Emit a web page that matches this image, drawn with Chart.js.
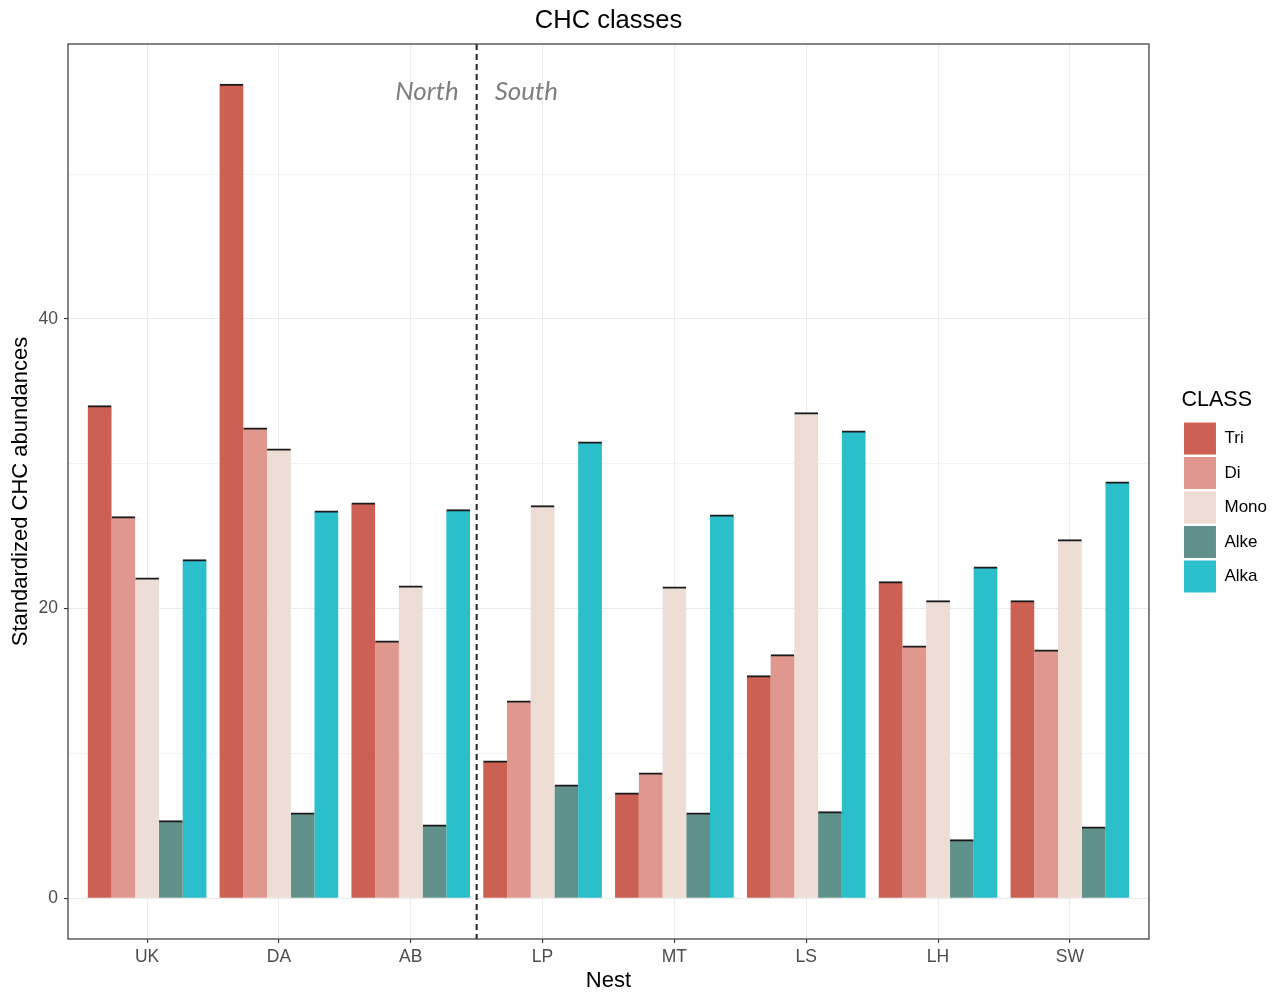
<!DOCTYPE html>
<html><head><meta charset="utf-8">
<script src="https://cdn.jsdelivr.net/npm/chart.js@4/dist/chart.umd.min.js"></script>
<style>html,body{margin:0;padding:0;background:#fff;} canvas{display:block;}</style>
</head><body>
<canvas id="c" width="1283" height="992"></canvas>
<script>
const categories = ['UK','DA','AB','LP','MT','LS','LH','SW'];
const classes = ['Tri','Di','Mono','Alke','Alka'];
const tri  = [33.99, 56.20, 27.29, 9.48, 7.27, 15.35, 21.84, 20.53];
const di   = [26.33, 32.47, 17.76, 13.62, 8.65, 16.80, 17.42, 17.14];
const mono = [22.11, 31.02, 21.56, 27.09, 21.49, 33.51, 20.53, 24.74];
const alke = [5.34, 5.89, 5.06, 7.82, 5.89, 5.96, 4.03, 4.92];
const alka = [23.36, 26.74, 26.81, 31.50, 26.46, 32.26, 22.87, 28.74];
const yTicks = [0, 10, 20, 30, 40, 50];
const yLabelled = [0, 20, 40];
const regionNames = ['North', 'South'];
const dividerX = 2.5;
const regionLabelY = 55.7;
const colors = ['#CC6153', '#E0978E', '#EDDDD5', '#60918B', '#2ABFCB'];

Chart.defaults.font.family = "'Liberation Sans', Arial, sans-serif";

const series = [tri, di, mono, alke, alka];
const datasets = classes.map((name, k) => ({
  label: name,
  data: series[k].map((v, i) => ({x: i, y: v})),
  backgroundColor: colors[k],
  borderColor: '#1a1a1a',
  borderWidth: {top: 2, right: 0, bottom: 0, left: 0},
  borderSkipped: false,
  inflateAmount: 0.6,
  categoryPercentage: 0.9,
  barPercentage: 1.0
}));

const overlay = {
  id: 'overlay',
  afterDatasetsDraw(chart) {
    const {ctx, chartArea: a, scales: {x, y}} = chart;
    const px = x.getPixelForValue(dividerX);
    ctx.save();
    ctx.strokeStyle = '#222'; ctx.lineWidth = 2; ctx.setLineDash([6, 4]);
    ctx.beginPath(); ctx.moveTo(px, a.top); ctx.lineTo(px, a.bottom); ctx.stroke();
    ctx.setLineDash([]);
    ctx.font = 'italic 26px Lato, "Open Sans", sans-serif';
    ctx.fillStyle = '#7f7f7f'; ctx.textBaseline = 'middle';
    const py = y.getPixelForValue(regionLabelY);
    ctx.textAlign = 'right'; ctx.fillText(regionNames[0], px - 18, py);
    ctx.textAlign = 'left'; ctx.fillText(regionNames[1], px + 18, py);
    ctx.strokeStyle = '#444'; ctx.lineWidth = 1.3;
    ctx.strokeRect(a.left, a.top, a.right - a.left, a.bottom - a.top);
    ctx.restore();
  }
};

new Chart(document.getElementById('c'), {
  type: 'bar',
  data: {datasets},
  plugins: [overlay],
  options: {
    responsive: false,
    animation: false,
    devicePixelRatio: 1,
    layout: {padding: {left: 0, right: 6, top: 0, bottom: 0}},
    plugins: {
      tooltip: {enabled: false},
      title: {display: true, fullSize: false, text: 'CHC classes', color: '#000', font: {size: 25.5, weight: 'normal'}, padding: {top: 5.5, bottom: 7.9}},
      legend: {
        position: 'right', align: 'center',
        title: {display: true, text: 'CLASS', color: '#000', font: {size: 21.5}, position: 'start', padding: {top: -8, bottom: 5}},
        labels: {
          boxWidth: 32, boxHeight: 32, padding: 2.5, color: '#000', font: {size: 17},
          generateLabels: chart => Chart.defaults.plugins.legend.labels.generateLabels(chart).map(l => ({...l, lineWidth: 0, strokeStyle: 'rgba(0,0,0,0)'}))
        }
      }
    },
    scales: {
      x: {
        type: 'linear', min: -0.6, max: 7.6, offset: false,
        afterBuildTicks: s => { s.ticks = categories.map((c, i) => ({value: i})); },
        afterFit: s => { s.height = 53; },
        ticks: {callback: v => categories[v] ?? '', color: '#4d4d4d', font: {size: 17.5}, padding: 3.5, autoSkip: false, maxRotation: 0},
        grid: {color: '#ebebeb', lineWidth: 1.1, tickLength: 4, tickColor: '#333', tickWidth: 1.1, offset: false},
        border: {display: false},
        title: {display: true, text: 'Nest', color: '#000', font: {size: 22}, padding: {top: 0, bottom: -2}}
      },
      y: {
        min: -2.81, max: 58.98,
        afterBuildTicks: s => { s.ticks = yTicks.map(v => ({value: v})); },
        afterFit: s => { s.width = 68; },
        ticks: {callback: v => yLabelled.includes(v) ? String(v) : '', color: '#4d4d4d', font: {size: 17.5}, padding: 6},
        grid: {
          color: '#ebebeb',
          lineWidth: c => (c.tick && yLabelled.includes(c.tick.value)) ? 1.1 : 0.6,
          tickLength: 4,
          tickColor: c => (c.tick && yLabelled.includes(c.tick.value)) ? '#333' : 'rgba(0,0,0,0)',
          tickWidth: 1.1
        },
        border: {display: false},
        title: {display: true, text: 'Standardized CHC abundances', color: '#000', font: {size: 22}, padding: {top: 8, bottom: 0}}
      },
      spacer: {
        position: 'right', display: true,
        afterFit: s => { s.width = 32.5; },
        grid: {display: false}, ticks: {display: false}, border: {display: false}
      }
    }
  }
});
</script>
</body></html>
